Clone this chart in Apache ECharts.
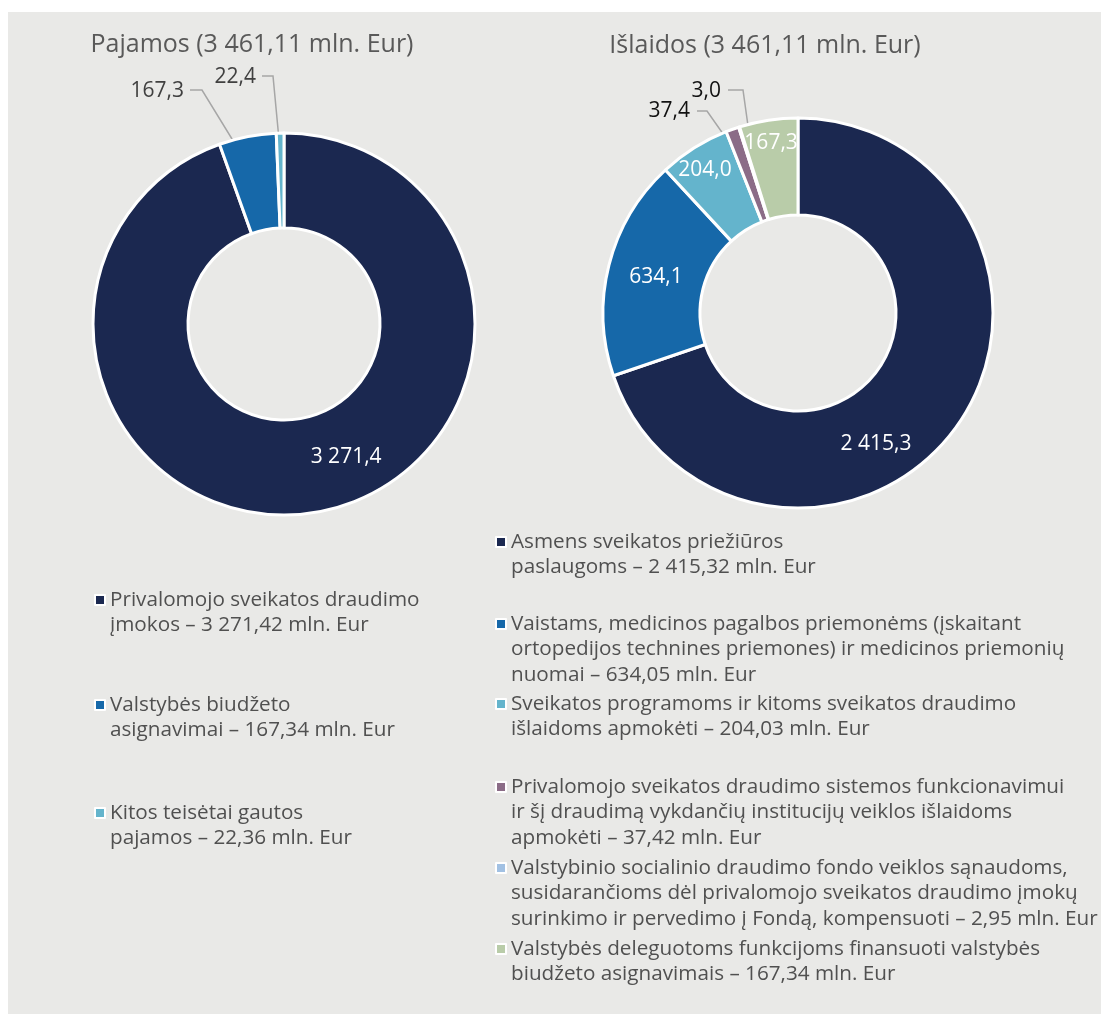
<!DOCTYPE html>
<html><head><meta charset="utf-8">
<script src="https://cdn.jsdelivr.net/npm/echarts@6/dist/echarts.min.js"></script>
<style>
html,body{margin:0;padding:0;background:#fff;}
#bg{position:absolute;left:8px;top:12px;width:1093px;height:1002px;background:#e9e9e7;}
#c{position:absolute;left:0;top:0;width:1101px;height:1014px;}
</style>
</head><body><div id="bg"></div><div id="c"></div>
<script>
// ---------- data ----------
const incomeTitle = 'Pajamos (3 461,11 mln. Eur)';
const expenseTitle = 'Išlaidos (3 461,11 mln. Eur)';

const incomeCategories = [
  'Privalomojo sveikatos draudimo įmokos',
  'Valstybės biudžeto asignavimai',
  'Kitos teisėtai gautos pajamos'
];
const incomeLegendText = [
  'Privalomojo sveikatos draudimo\nįmokos',
  'Valstybės biudžeto\nasignavimai',
  'Kitos teisėtai gautos\npajamos'
];
const incomeValues = [3271.42, 167.34, 22.36];

const expenseCategories = [
  'Asmens sveikatos priežiūros paslaugoms',
  'Vaistams, medicinos pagalbos priemonėms ir nuomai',
  'Sveikatos programoms ir kitoms sveikatos draudimo išlaidoms',
  'PSD sistemos funkcionavimui',
  'Valstybinio socialinio draudimo fondo veiklos sąnaudoms',
  'Valstybės deleguotoms funkcijoms finansuoti'
];
const expenseLegendText = [
  'Asmens sveikatos priežiūros\npaslaugoms',
  'Vaistams, medicinos pagalbos priemonėms (įskaitant\nortopedijos technines priemones) ir medicinos priemonių\nnuomai',
  'Sveikatos programoms ir kitoms sveikatos draudimo\nišlaidoms apmokėti',
  'Privalomojo sveikatos draudimo sistemos funkcionavimui\nir šį draudimą vykdančių institucijų veiklos išlaidoms\napmokėti',
  'Valstybinio socialinio draudimo fondo veiklos sąnaudoms,\nsusidarančioms dėl privalomojo sveikatos draudimo įmokų\nsurinkimo ir pervedimo į Fondą, kompensuoti',
  'Valstybės deleguotoms funkcijoms finansuoti valstybės\nbiudžeto asignavimais'
];
const expenseValues = [2415.32, 634.05, 204.03, 37.42, 2.95, 167.34];

// ---------- styles / layout ----------
const FONT = '"Open Sans", "Noto Sans", sans-serif';
const incomeColors = ['#1b2850', '#1668a9', '#64b4cc'];
const expenseColors = ['#1b2850', '#1668a9', '#64b4cc', '#8b6c87', '#a2c1e3', '#b9cca9'];
const LC = {cx: 284, cy: 324};
const RC = {cx: 798, cy: 313};
const LH = 25.5;

// label placement relative to each pie centre
const incomeLabelPos = [
  {a: 155, r: 147},
  {out: true, x: -100, y: -233, line: [[-25, -141], [-82, -234], [-94, -234]]},
  {out: true, x: -28, y: -247, line: [[-1, -142], [-11, -248], [-22, -248]]}
];
const expenseLabelPos = [
  {a: 149.2, r: 152.5},
  {a: 284.2, r: 146.5},
  {a: 327, r: 170.6},
  {out: true, x: -108, y: -202, line: [[-46, -138], [-91, -202], [-101, -202]]},
  {out: true, x: -77, y: -222, line: [[-43, -137], [-55, -223], [-70, -223]]},
  {a: 351, r: 172}
];

function fmt(v, d) {
  const s = (v + 1e-9).toFixed(d);
  let [i, f] = s.split('.');
  i = i.replace(/\B(?=(\d{3})+(?!\d))/g, ' ');
  return i + ',' + f;
}

function makeData(names, values, colors, pos, outColor) {
  return names.map((n, i) => {
    const d = {name: n, value: values[i], itemStyle: {color: colors[i]}};
    if (pos[i].out) {
      d.label = {position: 'outside', color: outColor};
      d.labelLine = {show: true};
    }
    return d;
  });
}

function layoutFor(center, pos) {
  return function (params) {
    const p = pos[params.dataIndex];
    if (p.out) {
      return {
        x: center.cx + p.x, y: center.cy + p.y, align: 'right', verticalAlign: 'middle',
        labelLinePoints: p.line.map(q => [center.cx + q[0], center.cy + q[1]])
      };
    }
    const rad = p.a * Math.PI / 180;
    return {
      x: center.cx + p.r * Math.sin(rad), y: center.cy - p.r * Math.cos(rad),
      align: 'center', verticalAlign: 'middle'
    };
  };
}

function pieSeries(center, names, values, colors, pos, outColor) {
  return {
    type: 'pie',
    center: [center.cx, center.cy],
    radius: [center === LC ? 96 : 98, center === LC ? 191 : 195],
    startAngle: 90,
    clockwise: true,
    avoidLabelOverlap: false,
    silent: true,
    animation: false,
    itemStyle: {borderColor: '#fff', borderWidth: 3},
    label: {
      show: true, position: 'inside', color: '#fff', fontFamily: FONT, fontSize: 21,
      formatter: p => fmt(p.value, 1)
    },
    labelLine: {show: false, lineStyle: {color: '#a6a6a6', width: 1.5}},
    labelLayout: layoutFor(center, pos),
    data: makeData(names, values, colors, pos, outColor)
  };
}

function legendFor(name, desc, value, iconLeft, firstLineY) {
  const body = desc + ' – ' + fmt(value, 2) + ' mln. Eur';
  const n = body.split('\n').length;
  // blank lines above so the swatch lines up with the first text line
  const text = ' \n'.repeat(n - 1) + body;
  return {
    data: [name], left: iconLeft, top: firstLineY - (2 * n - 1) * LH / 2,
    padding: 0, itemWidth: 10, itemHeight: 10, icon: 'rect', selectedMode: false,
    itemStyle: {borderColor: '#fff', borderWidth: 2},
    formatter: () => text,
    textStyle: {fontFamily: FONT, fontSize: 20.7, color: '#505050', lineHeight: LH}
  };
}

const incomeLegendY = [600, 705, 813];
const expenseLegendY = [542, 624, 704, 787, 868, 949];
const legends = [];
incomeCategories.forEach((n, i) => legends.push(legendFor(n, incomeLegendText[i], incomeValues[i], 94, incomeLegendY[i])));
expenseCategories.forEach((n, i) => legends.push(legendFor(n, expenseLegendText[i], expenseValues[i], 495, expenseLegendY[i])));

const chart = echarts.init(document.getElementById('c'), null, {renderer: 'canvas'});
chart.setOption({
  backgroundColor: 'transparent',
  animation: false,
  title: [
    {text: incomeTitle, left: 252, top: 32, textAlign: 'center', padding: 0,
      textStyle: {fontFamily: FONT, fontSize: 25, fontWeight: 'normal', color: '#595959'}},
    {text: expenseTitle, left: 765, top: 33, textAlign: 'center', padding: 0,
      textStyle: {fontFamily: FONT, fontSize: 25, fontWeight: 'normal', color: '#595959'}}
  ],
  legend: legends,
  series: [
    pieSeries(LC, incomeCategories, incomeValues, incomeColors, incomeLabelPos, '#404040'),
    pieSeries(RC, expenseCategories, expenseValues, expenseColors, expenseLabelPos, '#111')
  ]
});
</script>
</body></html>
